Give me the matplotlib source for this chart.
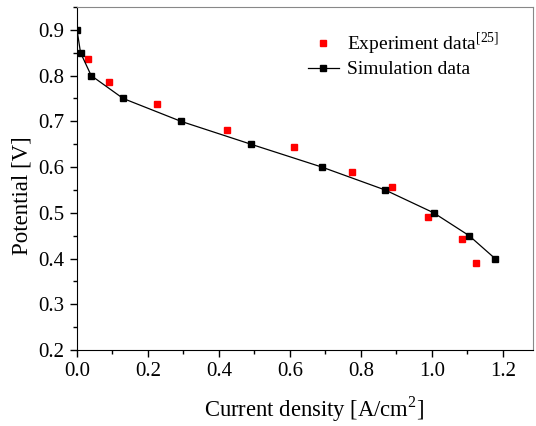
import matplotlib.pyplot as plt
from matplotlib.ticker import MultipleLocator

plt.rcParams['font.family'] = ['Liberation Serif', 'DejaVu Serif']
plt.rcParams['mathtext.fontset'] = 'custom'
plt.rcParams['mathtext.rm'] = 'Liberation Serif'

# simulation curve
sim_x = [0.0, 0.01, 0.04, 0.13, 0.293, 0.49, 0.69, 0.868, 1.005, 1.105, 1.178]
sim_y = [0.9, 0.85, 0.8, 0.75, 0.7, 0.65, 0.6, 0.55, 0.5, 0.45, 0.4]

# experiment points
exp_x = [0.031, 0.091, 0.226, 0.423, 0.612, 0.775, 0.887, 0.99, 1.084, 1.123]
exp_y = [0.837, 0.785, 0.738, 0.68, 0.643, 0.589, 0.557, 0.49, 0.443, 0.39]

fig = plt.figure(figsize=(5.36, 4.26), dpi=100)
ax = fig.add_axes([77/536, 1-350/426, (533-77)/536, (350-7)/426])

ax.plot(exp_x, exp_y, 's', color='red', markersize=5, linestyle='none',
        label='Experiment data$^{[25]}$')
ax.plot(sim_x, sim_y, '-s', color='black', markersize=5, linewidth=0.9,
        label='Simulation data')

ax.set_xlim(0, 1.285)
ax.set_ylim(0.2, 0.95)
ax.xaxis.set_major_locator(MultipleLocator(0.2))
ax.xaxis.set_minor_locator(MultipleLocator(0.1))
ax.yaxis.set_major_locator(MultipleLocator(0.1))
ax.yaxis.set_minor_locator(MultipleLocator(0.05))
ax.tick_params(which='both', direction='out', top=False, right=False, labelsize=15)
ax.tick_params(which='major', length=5, width=1, pad=4)
ax.tick_params(which='minor', length=3, width=1)
for s in ['top', 'right']:
    ax.spines[s].set_color('#888888')

ax.set_xlabel('Current density [A/cm$^2$]', fontsize=16.3)
ax.set_ylabel('Potential [V]', fontsize=16.5)
ax.xaxis.set_label_coords(0.52, -0.13)
ax.yaxis.set_label_coords(-0.097, 0.45)

ax.legend(loc='upper left', bbox_to_anchor=(0.489, 0.955), frameon=False,
          fontsize=14, handlelength=1.6, handletextpad=0.4, labelspacing=0.2,
          borderaxespad=0)

fig.savefig('out.png', dpi=100)
